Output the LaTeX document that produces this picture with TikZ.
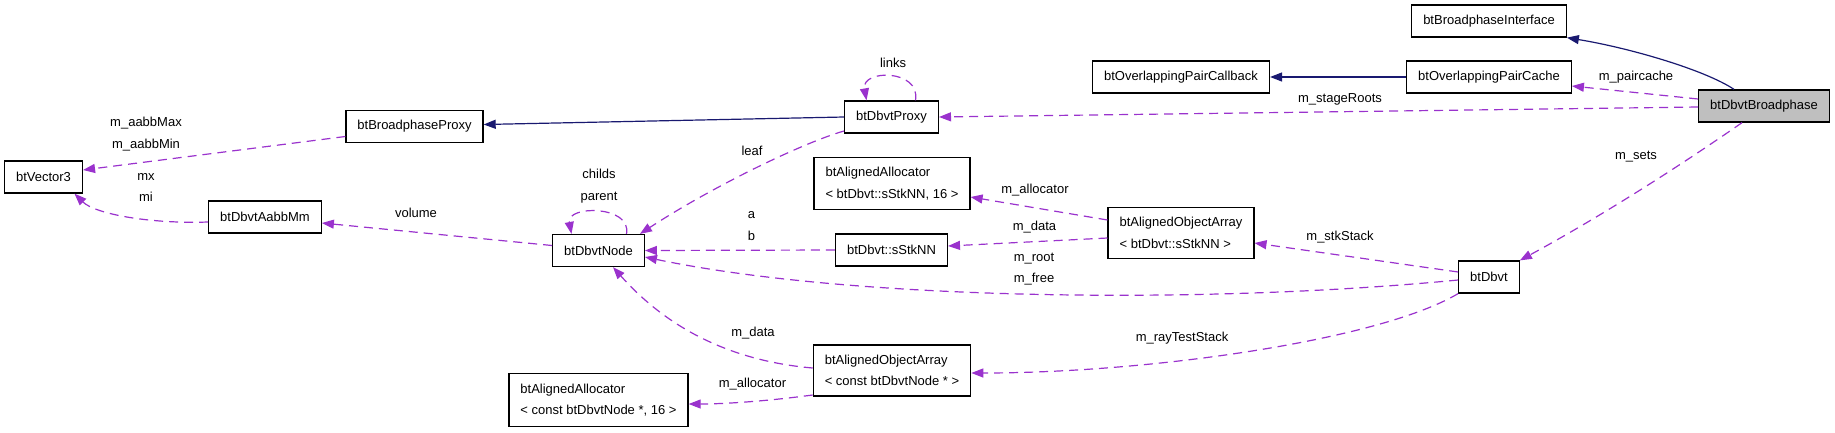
\documentclass[tikz,border=0pt]{standalone}
\usepackage{fontspec}
\setmainfont{Liberation Sans}
\usetikzlibrary{arrows.meta}
\definecolor{isablue}{HTML}{191970}
\definecolor{usepurple}{HTML}{9A32CD}

\begin{document}
\begin{tikzpicture}[x=1pt,y=-1pt,
      font=\fontsize{13}{21.5}\selectfont,
      box/.style={draw=black,line width=1.2pt,fill=white,inner xsep=11.5pt,inner ysep=10pt,minimum height=32pt,align=left},
      lbl/.style={inner sep=0pt,align=center},
      isa/.style={draw=isablue,line width=1.2pt,-{Triangle[length=12pt,width=9pt]}},
      uses/.style={draw=usepurple,line width=1.2pt,dash pattern=on 9pt off 6pt,-{Triangle[length=12pt,width=9pt]}}]
      \useasboundingbox (0,0) rectangle (1835,432);
      \node [box] (vec) at (43.5,177) {btVector3};
      \node [box] (bproxy) at (414.5,126.5) {btBroadphaseProxy};
      \node [box] (aabbmm) at (265,217) {btDbvtAabbMm};
      \node [box] (dnode) at (598.5,250.5) {btDbvtNode};
      \node [box] (proxy) at (891.5,117) {btDbvtProxy};
      \node [box] (allocnn) at (892,183.5) {btAlignedAllocator\\< btDbvt::sStkNN, 16 >};
      \node [box] (stknn) at (891.5,250) {btDbvt::sStkNN};
      \node [box] (arrnn) at (1181,233) {btAlignedObjectArray\\< btDbvt::sStkNN >};
      \node [box] (arrnode) at (892,370.5) {btAlignedObjectArray\\< const btDbvtNode * >};
      \node [box] (allocnode) at (598.5,400) {btAlignedAllocator\\< const btDbvtNode *, 16 >};
      \node [box] (dbvt) at (1489,277) {btDbvt};
      \node [box] (callback) at (1181,77) {btOverlappingPairCallback};
      \node [box] (cache) at (1489,77) {btOverlappingPairCache};
      \node [box] (iface) at (1489,21) {btBroadphaseInterface};
      \node [box,fill=black!25] (broad) at (1764,106) {btDbvtBroadphase};
      \draw [isa] (proxy.west) -- ([yshift=2pt]bproxy.east);
      \draw [isa] (cache.west) -- (callback.east);
      \draw [isa] ([xshift=-30pt]broad.north) .. controls (1705,70) and (1630,48) .. (iface.south east);
      \draw [uses] ([yshift=7pt]broad.west) -- ([yshift=-9pt]cache.east);
      \draw [uses] ([yshift=-1pt]broad.west) -- (proxy.east);
      \draw [uses] ([xshift=-22pt]broad.south) .. controls (1668,174) and (1594,220) .. (dbvt.north east);
      \draw [uses] ([xshift=24pt]proxy.north) .. controls (921,69) and (861,69) .. ([xshift=-25pt]proxy.north);
      \draw [uses] ([yshift=-14pt]proxy.west) .. controls (805,142) and (715,185) .. ([xshift=-5pt]dnode.north east);
      \draw [uses] ([yshift=-10pt]bproxy.west) -- ([yshift=7pt]vec.east);
      \draw [uses] ([yshift=-5pt]aabbmm.west) .. controls (150,224) and (95,214) .. ([xshift=31pt]vec.south);
      \draw [uses] ([yshift=5pt]dnode.west) -- ([yshift=-6pt]aabbmm.east);
      \draw [uses] ([xshift=28pt]dnode.north) .. controls (632,205) and (566,205) .. ([xshift=-27pt]dnode.north);
      \draw [uses] (stknn.west) -- (dnode.east);
      \draw [uses] ([yshift=13pt]arrnn.west) -- ([yshift=-13.5pt]allocnn.east);
      \draw [uses] ([yshift=-5pt]arrnn.west) -- ([yshift=4pt]stknn.east);
      \draw [uses] ([yshift=5pt]dbvt.west) -- ([yshift=-10pt]arrnn.east);
      \draw [uses] ([yshift=-3pt]dbvt.west) .. controls (1200,305) and (850,300) .. ([yshift=-6.5pt]dnode.east);
      \draw [uses] (dbvt.south west) .. controls (1380,340) and (1150,373) .. ([yshift=-2.5pt]arrnode.east);
      \draw [uses] ([yshift=2.5pt]arrnode.west) .. controls (720,360) and (660,320) .. ([xshift=14.5pt]dnode.south);
      \draw [uses] ([yshift=-24.5pt]arrnode.west) .. controls (760,402) and (720,404) .. ([yshift=-4pt]allocnode.east);
      \node [lbl] (lpair) at (1636,77) {m\_paircache};
      \node [lbl] (lstage) at (1340,99) {m\_stageRoots};
      \node [lbl] (lsets) at (1636,157) {m\_sets};
      \node [lbl] (llinks) at (893,63) {links};
      \node [lbl] (lleaf) at (752,151) {leaf};
      \node [lbl] (laabb) at (146,134) {m\_aabbMax\\m\_aabbMin};
      \node [lbl] (lmxmi) at (146,187.5) {mx\\mi};
      \node [lbl] (lvol) at (416,213) {volume};
      \node [lbl] (lchilds) at (599,186) {childs\\parent};
      \node [lbl] (lab) at (751.5,226) {a\\b};
      \node [lbl] (lallocnn) at (1035,190) {m\_allocator};
      \node [lbl] (ldatann) at (1034.5,227) {m\_data};
      \node [lbl] (lrootfree) at (1034,269) {m\_root\\m\_free};
      \node [lbl] (lstk) at (1340,237) {m\_stkStack};
      \node [lbl] (lray) at (1182,338) {m\_rayTestStack};
      \node [lbl] (ldatanode) at (753,333) {m\_data};
      \node [lbl] (lallocnode) at (752.5,384) {m\_allocator};
    \end{tikzpicture}
\end{document}
